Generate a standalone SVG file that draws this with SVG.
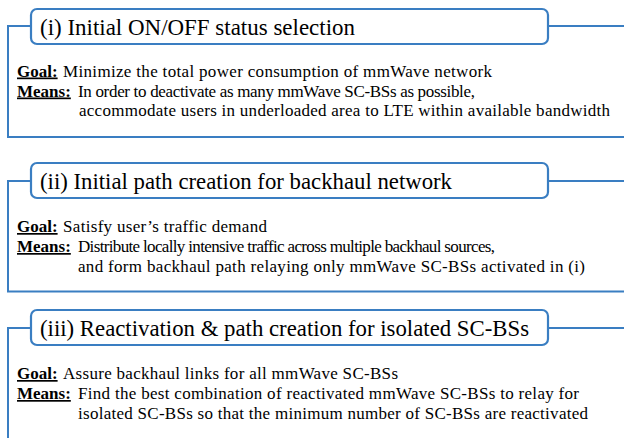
<svg xmlns="http://www.w3.org/2000/svg" width="624" height="438" viewBox="0 0 624 438">
  <style>
    .frame { fill: none; stroke: #3A7EC2; stroke-width: 2; }
    .title-box { fill: #FFFFFF; stroke: #3A7EC2; stroke-width: 2.2; }
    .title { font-size: 23px; }
    .body { font-size: 17px; }
    .label { font-size: 17px; font-weight: bold; text-decoration: underline; }
  </style>
  <rect width="624" height="438" fill="#FFFFFF"/>

  <!-- bracket lines framing each stage -->
  <g id="connectors">
    <polyline class="frame" points="31,26 8,26 8,137 624,137"/>
    <line class="frame" x1="548" y1="26" x2="624" y2="26"/>
    <polyline class="frame" points="31,181 8,181 8,291.5 624,291.5"/>
    <line class="frame" x1="548" y1="181" x2="624" y2="181"/>
    <polyline class="frame" points="31,328 8,328 8,438"/>
    <line class="frame" x1="548" y1="328" x2="624" y2="328"/>
  </g>

  <g font-family="Liberation Serif, serif" fill="#000000">
    <!-- stage (i) -->
    <g id="stage-1">
      <rect class="title-box" x="31" y="9" width="517" height="35" rx="6"/>
      <text class="title" x="40" y="34.5" textLength="315" lengthAdjust="spacingAndGlyphs">(i) Initial ON/OFF status selection</text>
      <text class="label" x="17" y="76.5">Goal:</text>
      <text class="body" x="63" y="76.5" textLength="429" lengthAdjust="spacing">Minimize the total power consumption of mmWave network</text>
      <text class="label" x="17" y="96.5">Means:</text>
      <text class="body" x="78" y="96.5" textLength="397" lengthAdjust="spacing">In order to deactivate as many mmWave SC-BSs as possible,</text>
      <text class="body" x="79" y="116" textLength="531" lengthAdjust="spacing">accommodate users in underloaded area to LTE within available bandwidth</text>
    </g>

    <!-- stage (ii) -->
    <g id="stage-2">
      <rect class="title-box" x="31" y="163" width="517" height="35" rx="6"/>
      <text class="title" x="40" y="189" textLength="412" lengthAdjust="spacingAndGlyphs">(ii) Initial path creation for backhaul network</text>
      <text class="label" x="17" y="232">Goal:</text>
      <text class="body" x="63" y="232" textLength="204" lengthAdjust="spacing">Satisfy user’s traffic demand</text>
      <text class="label" x="17" y="252">Means:</text>
      <text class="body" x="78" y="252" textLength="417" lengthAdjust="spacing">Distribute locally intensive traffic across multiple backhaul sources,</text>
      <text class="body" x="78" y="271.5" textLength="507" lengthAdjust="spacing">and form backhaul path relaying only mmWave SC-BSs activated in (i)</text>
    </g>

    <!-- stage (iii) -->
    <g id="stage-3">
      <rect class="title-box" x="31" y="310" width="517" height="35" rx="6"/>
      <text class="title" x="40" y="335.5" textLength="489" lengthAdjust="spacingAndGlyphs">(iii) Reactivation &amp; path creation for isolated SC-BSs</text>
      <text class="label" x="17" y="379">Goal:</text>
      <text class="body" x="63" y="379" textLength="335" lengthAdjust="spacing">Assure backhaul links for all mmWave SC-BSs</text>
      <text class="label" x="17" y="399">Means:</text>
      <text class="body" x="78" y="399" textLength="501" lengthAdjust="spacing">Find the best combination of reactivated mmWave SC-BSs to relay for</text>
      <text class="body" x="78" y="419" textLength="510" lengthAdjust="spacing">isolated SC-BSs so that the minimum number of SC-BSs are reactivated</text>
    </g>
  </g>
</svg>
